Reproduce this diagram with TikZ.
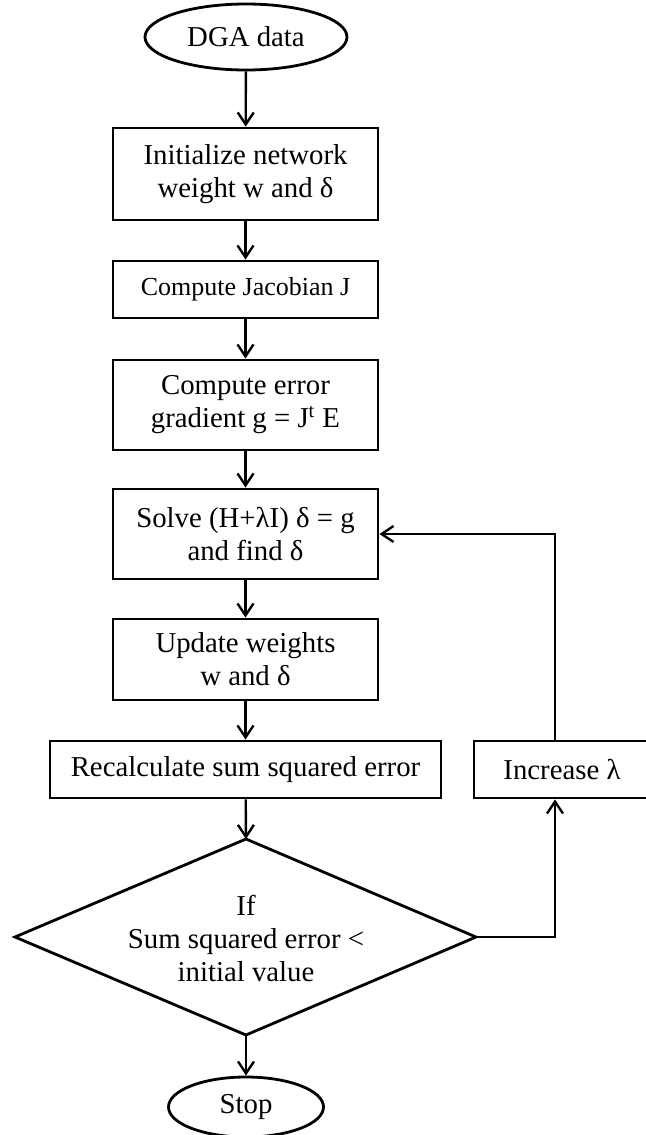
\documentclass[tikz,border=0pt]{standalone}
\usepackage{fontspec}
\setmainfont{Liberation Serif}
\usetikzlibrary{shapes.geometric,arrows.meta}

\begin{document}
\begin{tikzpicture}[x=0.5pt,y=-0.5pt,line width=1.2pt,
        txt/.style={font=\fontsize{14.4}{16.5}\selectfont},
        box/.style={draw,rectangle,align=center,inner sep=0pt,txt,line width=1.4pt,minimum width=132.5pt},
        term/.style={draw,ellipse,inner sep=0pt,txt,line width=1.4pt},
        arr/.style={-{Straight Barb[length=6pt,width=8pt]}}]
    \useasboundingbox (0,0) rectangle (645,1135);
    % main column
    \node [term,minimum width=101pt,minimum height=33pt] (dga) at (246,37) {DGA data};
    \node [box,minimum height=46pt] (init) at (245.5,174) {Initialize network\\weight w and δ};
    \node [box,minimum height=28.5pt,font=\fontsize{13}{15}\selectfont] (jac) at (245.5,289.5) {Compute Jacobian J};
    \node [box,minimum height=45pt] (grad) at (245.5,405) {Compute error\\gradient g = J\textsuperscript{t} E};
    \node [box,minimum height=45pt] (solve) at (245.5,534) {Solve (H+λI) δ = g\\and find δ};
    \node [box,minimum height=40.5pt] (upd) at (245.5,659.5) {Update weights\\w and δ};
    \node [box,minimum width=195.5pt,minimum height=28.5pt] (recalc) at (245.5,769.5) {Recalculate sum squared error};
    \node [box,minimum width=88pt,minimum height=28.5pt] (inc) at (562,769.5) {Increase λ};
    % decision
    \coordinate (dtop) at (246,839);
    \coordinate (dleft) at (15,937);
    \coordinate (dright) at (476,937);
    \coordinate (dbot) at (246,1035);
    \draw [line width=1.4pt] (dtop) -- (dright) -- (dbot) -- (dleft) -- cycle;
    \node [txt,align=center] (cond) at (246,938) {If\\Sum squared error <\\initial value};
    \node [term,minimum width=77.5pt,minimum height=30pt] (stop) at (246,1107) {Stop};
    \coordinate (loopx) at (555,0);
    % arrows
    \draw [arr] (dga) -- (init);
    \draw [arr] (init) -- (jac);
    \draw [arr] (jac) -- (grad);
    \draw [arr] (grad) -- (solve);
    \draw [arr] (solve) -- (upd);
    \draw [arr] (upd) -- (recalc);
    \draw [arr] (recalc) -- (dtop);
    \draw [arr] (dbot) -- (stop);
    \draw [arr] (dright) -| (inc.south -| loopx);
    \draw [arr] (inc.north -| loopx) |- (solve.east);
\end{tikzpicture}
\end{document}
